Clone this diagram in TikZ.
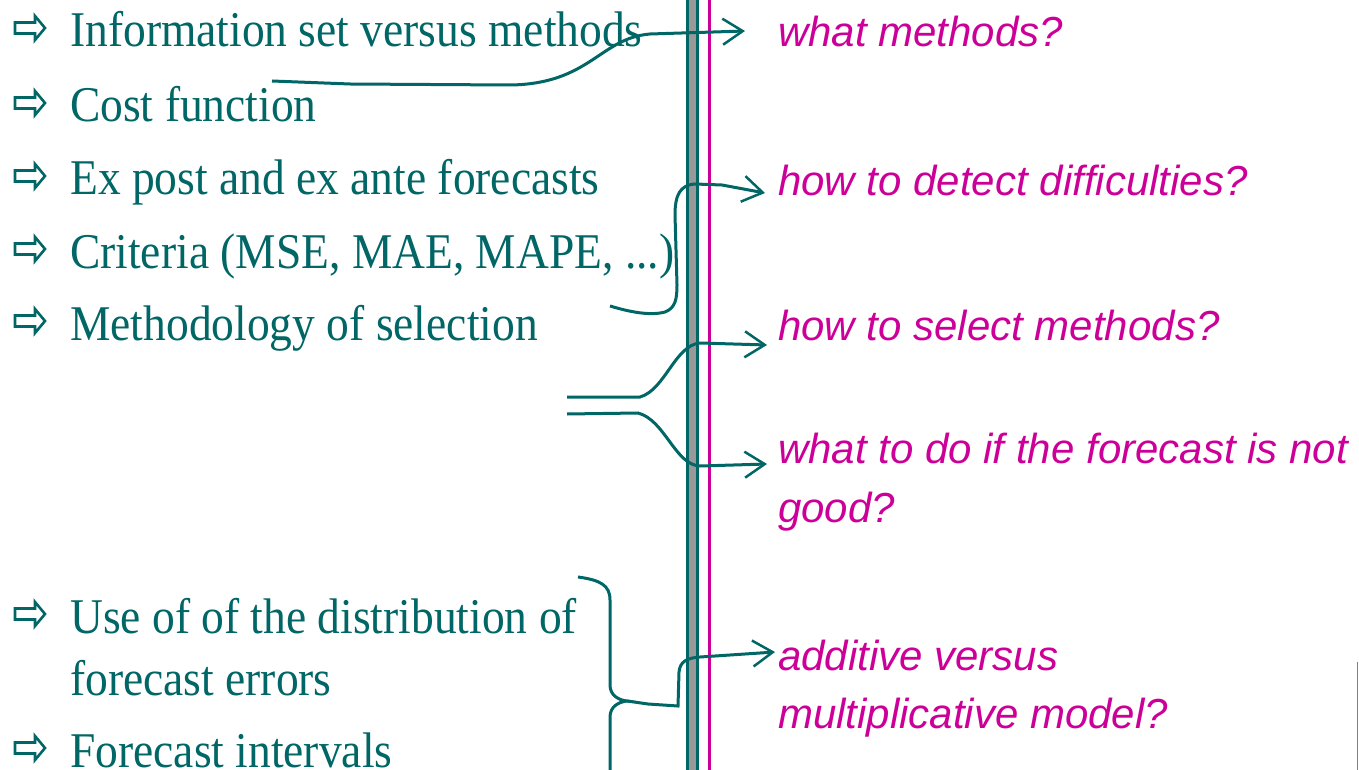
\documentclass[tikz,border=0pt]{standalone}
\usepackage{fontspec}
\setmainfont{Liberation Serif}
\newfontfamily\rtfont{Liberation Sans}
\usetikzlibrary{arrows.meta}
\definecolor{tealc}{HTML}{006666}
\definecolor{magc}{HTML}{CC0099}
\definecolor{barg}{HTML}{999999}
\newcommand{\lsq}[1]{\scalebox{0.91}[1]{#1}}
\begin{document}
\begin{tikzpicture}[x=1pt,y=-1pt,
  lt/.style={anchor=base west, inner sep=0pt, text=tealc, font=\fontsize{50}{60}\selectfont},
  rt/.style={anchor=base west, inner sep=0pt, text=magc, font=\rtfont\itshape\fontsize{42}{50}\selectfont},
  conn/.style={draw=tealc, line width=3pt},
  arr/.style={conn, -{Straight Barb[length=20pt,width=26pt,line width=2.5pt]}},
  bulletline/.style={draw=tealc, line width=2.6pt, line join=miter},
  bul/.pic={\draw[bulletline] (0,-5.5) -- (20,-5.5) -- (20,-12) -- (30,0) -- (20,12) -- (20,5.5) -- (0,5.5) -- cycle;}]
\fill[white] (0,0) rectangle (1359,770);
\useasboundingbox (0,0) rectangle (1359,770);
% bars
\fill[barg] (689,0) rectangle (696,770);
\draw[tealc, line width=3pt] (687.5,0) -- (687.5,770);
\draw[tealc, line width=3pt] (697.5,0) -- (697.5,770);
\draw[magc, line width=3pt] (709.5,0) -- (709.5,770);
\draw[gray, line width=1.5pt] (1357.5,662) -- (1357.5,770);
% bullets
\foreach \yy in {28,103,176,249,321,614,748} { \pic at (15,\yy) {bul}; }
% left texts
\node[lt] (t1) at (70,47) {\lsq{Information set versus methods}};
\node[lt] (t2) at (70,122) {\lsq{Cost function}};
\node[lt] (t3) at (70,195) {\lsq{Ex post and ex ante forecasts}};
\node[lt] (t4) at (70,268) {\lsq{Criteria (MSE, MAE, MAPE, ...)}};
\node[lt] (t5) at (70,340) {\lsq{Methodology of selection}};
\node[lt] (t6) at (70,633) {\lsq{Use of of the distribution of}};
\node[lt] (t7) at (70,695) {\lsq{forecast errors}};
\node[lt] (t8) at (70,767) {\lsq{Forecast intervals}};
% right texts
\node[rt] (r1) at (778,47) {what methods?};
\node[rt] (r2) at (778,196) {how to detect difficulties?};
\node[rt] (r3) at (778,340) {how to select methods?};
\node[rt] (r4) at (778,463) {what to do if the forecast is not};
\node[rt] (r5) at (778,522) {good?};
\node[rt] (r6) at (778,670) {additive versus};
\node[rt] (r7) at (778,728) {multiplicative model?};
% connector coordinates
\coordinate (c1s) at (272,81);
\coordinate (c1e) at (745,31);
\coordinate (c2s) at (610,306);
\coordinate (c2e) at (765,193);
\coordinate (c3a) at (567,397);
\coordinate (c3b) at (567,414);
\coordinate (c3ae) at (767,345);
\coordinate (c3be) at (767,464);
\coordinate (c4t) at (578,577);
\coordinate (c4m) at (627,701);
\coordinate (c4b) at (610,770);
\coordinate (c4e) at (775,652);
% connectors
\draw[arr] (c1s) -- (350,84) -- (510,85) .. controls (590,84) and (600,38) .. (650,34) -- (c1e);
\draw[arr] (c2s) .. controls (630,312) and (650,316) .. (665,312) .. controls (675,308) and (677,300) .. (677,285) -- (675,215) .. controls (675,195) and (680,185) .. (695,184) -- (722,185) -- (c2e);
\draw[arr] (c3a) -- (640,397) .. controls (665,390) and (675,345) .. (700,343) -- (c3ae);
\draw[arr] (c3b) -- (638,413) .. controls (665,420) and (675,465) .. (700,466) -- (c3be);
\draw[conn] (c4t) .. controls (600,580) and (610,585) .. (610,600) -- (610,685) .. controls (610,695) and (618,700) .. (c4m) .. controls (618,702) and (610,707) .. (610,717) -- (c4b);
\draw[arr] (c4m) -- (648,704) -- (678,706) -- (679,672) .. controls (680,662) and (686,658) .. (700,657) -- (c4e);
\end{tikzpicture}
\end{document}
